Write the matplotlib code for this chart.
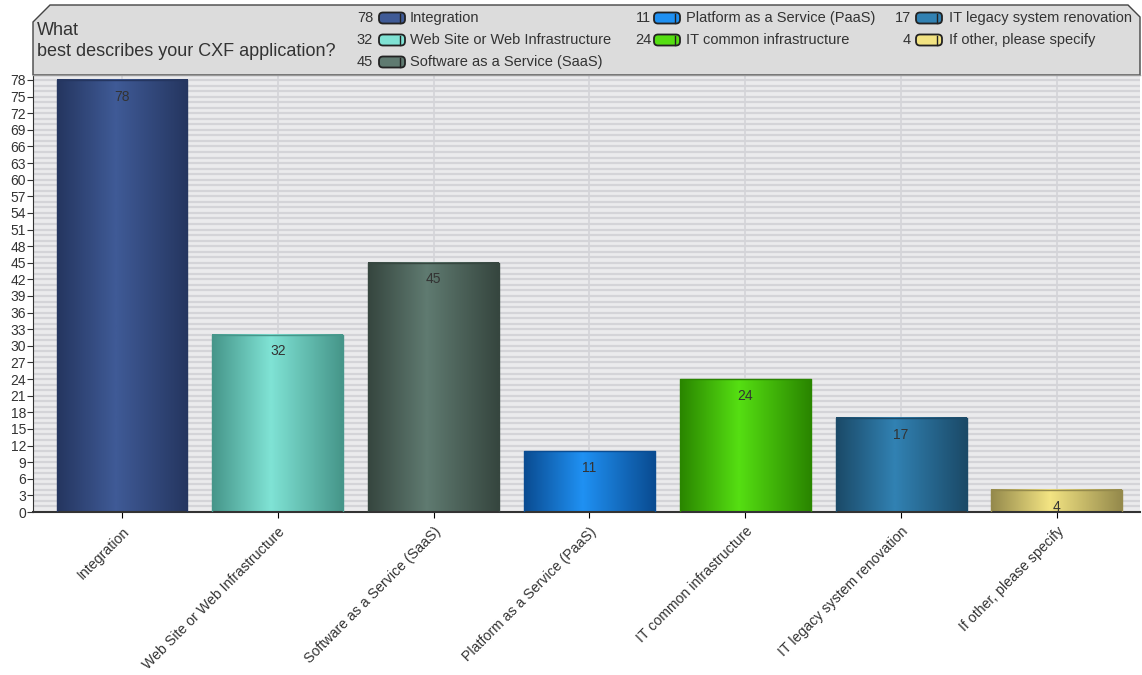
import numpy as np
import matplotlib
matplotlib.use('Agg')
import matplotlib.pyplot as plt
from matplotlib.colors import LinearSegmentedColormap
from matplotlib.patches import Polygon, FancyBboxPatch

plt.rcParams['font.family'] = ['Liberation Sans', 'DejaVu Sans']

categories = ['Integration', 'Web Site or Web Infrastructure', 'Software as a Service (SaaS)',
              'Platform as a Service (PaaS)', 'IT common infrastructure',
              'IT legacy system renovation', 'If other, please specify']
values = [78, 32, 45, 11, 24, 17, 4]
# (edge colour, centre colour) of the shaded bars
edge_colors = ['#253660', '#46968a', '#36463f', '#0a4c92', '#2a8600', '#1b4a68', '#958a4c']
mid_colors = ['#3f5a96', '#7fe2d4', '#5f7a70', '#1f90f2', '#55de12', '#3181b2', '#f2e382']
title = 'What\nbest describes your CXF application?'
yticks = list(range(0, 79, 3))

W, H = 1142, 675
fig = plt.figure(figsize=(W / 100, H / 100), dpi=100)

# plot area
ax = fig.add_axes([33 / W, 1 - 512 / H, (1140 - 33) / W, (512 - 75) / H])
ax.set_facecolor('#ebebed')
ymax = 78.9
for yy in range(1, 79):
    ax.axhline(yy, color='#d4d4d8', lw=1.6, zorder=0)
for i in range(len(categories)):
    ax.axvline(i, color='#d4d4d8', lw=1.2, zorder=0.5)

grad = np.concatenate([np.linspace(0, 1, 45), np.linspace(1, 0, 55)])[None, :]
bw = 0.84
for i, (v, c0, c1) in enumerate(zip(values, edge_colors, mid_colors)):
    cmap = LinearSegmentedColormap.from_list('b%d' % i, [c0, c1])
    ax.imshow(grad, cmap=cmap, aspect='auto', extent=(i - bw / 2, i + bw / 2, 0, v),
              zorder=2, interpolation='bilinear')
    ax.plot([i - bw / 2, i - bw / 2, i + bw / 2, i + bw / 2], [0, v, v, 0],
            color=c0, lw=1, zorder=3)
    ax.annotate(str(v), (i, v), xytext=(0, -7), textcoords='offset points',
                ha='center', va='top', fontsize=10, color='#333333', zorder=4)

ax.set_xlim(-0.571, 6.533)
ax.set_ylim(0, ymax)
ax.set_yticks(yticks)
ax.set_xticks(range(len(categories)))
ax.set_xticklabels(categories, rotation=45, ha='right', rotation_mode='anchor',
                   fontsize=10.2, color='#333333')
ax.tick_params(axis='y', labelsize=10, length=4, pad=1, colors='#333333')
ax.tick_params(axis='x', length=4, pad=5)
for s in ['top', 'right']:
    ax.spines[s].set_visible(False)
ax.spines['left'].set_color('#333333')
ax.spines['bottom'].set_color('#333333')
ax.spines['bottom'].set_linewidth(1.5)

# header with title and legend
hx = fig.add_axes([0, 0, 1, 1], zorder=5)
hx.set_xlim(0, W)
hx.set_ylim(H, 0)
hx.axis('off')
hdr = Polygon([(33, 75), (33, 22), (50, 5), (1128, 5), (1140, 17), (1140, 75)],
              closed=True, facecolor='#dcdcdc', edgecolor='#444444', lw=1)
hx.add_patch(hdr)
hx.plot([33, 1140], [75, 75], color='#999999', lw=1)
hx.text(37, 41, title, ha='left', va='center', fontsize=13, color='#333333',
        linespacing=1.25)

# (number right edge, swatch left, label left)
cols = [(373, 379, 410), (651, 654, 686), (911, 916, 949)]
rows = [18, 40, 62]
order = [(0, 0), (0, 1), (0, 2), (1, 0), (1, 1), (2, 0), (2, 1)]
for k, (ci, ri) in enumerate(order):
    nx, sx, lx = cols[ci]
    yy = rows[ri]
    hx.text(nx, yy, str(values[k]), ha='right', va='center', fontsize=10.5, color='#333333')
    sw = FancyBboxPatch((sx, yy - 5.5), 26, 11, boxstyle='round,pad=0,rounding_size=4',
                        facecolor=mid_colors[k], edgecolor='#222222', lw=1.3)
    hx.add_patch(sw)
    hx.plot([sx + 21, sx + 21], [yy - 4.5, yy + 4.5], color='#222222', lw=1)
    hx.text(lx, yy, categories[k], ha='left', va='center', fontsize=10.5, color='#333333')

fig.savefig('out.png', dpi=100)
